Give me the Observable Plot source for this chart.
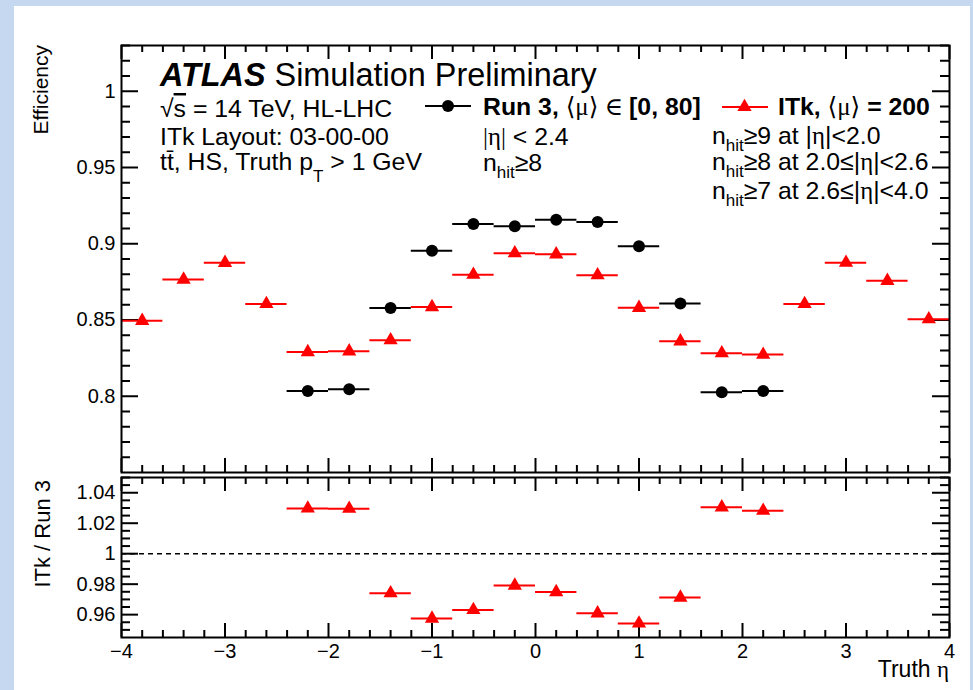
<!DOCTYPE html>
<html><head><meta charset="utf-8">
<script src="https://cdn.jsdelivr.net/npm/d3@7"></script>
<script src="https://cdn.jsdelivr.net/npm/@observablehq/plot@0.6"></script>
<style>
html,body{margin:0;padding:0;}
body{width:973px;height:690px;background:#c5d8ef;position:relative;overflow:hidden;font-family:"Liberation Sans",Arial,sans-serif;}
#panel{position:absolute;left:14px;top:6px;width:956px;height:684px;background:#fff;}
#chart svg{position:absolute;left:0;top:0;}
</style></head><body><div id="panel"></div><div id="chart"></div>
<script>
// ---------------- data ----------------
const binHalfWidth = 0.2;
const itkEta = [-3.8,-3.4,-3.0,-2.6,-2.2,-1.8,-1.4,-1.0,-0.6,-0.2,0.2,0.6,1.0,1.4,1.8,2.2,2.6,3.0,3.4,3.8];
const itkEff = [0.8495,0.8765,0.8875,0.8605,0.829,0.8295,0.8368,0.8585,0.8797,0.8938,0.8931,0.8794,0.858,0.836,0.8282,0.8273,0.8605,0.8876,0.8757,0.8505];
const run3Eta = [-2.2,-1.8,-1.4,-1.0,-0.6,-0.2,0.2,0.6,1.0,1.4,1.8,2.2];
const run3Eff = [0.8035,0.8046,0.8578,0.8954,0.9130,0.9114,0.9157,0.9142,0.8983,0.8608,0.8026,0.8035];
const ratioEta = [-2.2,-1.8,-1.4,-1.0,-0.6,-0.2,0.2,0.6,1.0,1.4,1.8,2.2];
const ratioVal = [1.0297,1.0295,0.9741,0.9574,0.9631,0.9791,0.9748,0.9609,0.9542,0.9712,1.0304,1.0282];

const xTickValues = [-4,-3,-2,-1,0,1,2,3,4];
const xTickLabels = ["\u22124","\u22123","\u22122","\u22121","0","1","2","3","4"];
const effTickValues = [0.8,0.85,0.9,0.95,1];
const effTickLabels = ["0.8","0.85","0.9","0.95","1"];
const ratioTickValues = [0.96,0.98,1,1.02,1.04];
const ratioTickLabels = ["0.96","0.98","1","1.02","1.04"];

// ---------------- tables ----------------
const itk = itkEta.map((e,i)=>({eta:e, lo:e-binHalfWidth, hi:e+binHalfWidth, v:itkEff[i]}));
const run3 = run3Eta.map((e,i)=>({eta:e, lo:e-binHalfWidth, hi:e+binHalfWidth, v:run3Eff[i]}));
const ratio = ratioEta.map((e,i)=>({eta:e, lo:e-binHalfWidth, hi:e+binHalfWidth, v:ratioVal[i]}));

const xMinor = d3.range(-38,40,2).map(d=>d/10).filter(d=>!xTickValues.some(t=>Math.abs(t-d)<1e-9));
const effMinor = d3.range(76,104,1).map(d=>d/100).filter(d=>!effTickValues.some(t=>Math.abs(t-d)<1e-9));
const ratioMinor = d3.range(190,211,1).map(d=>d/200).filter(d=>!ratioTickValues.some(t=>Math.abs(t-d)<1e-9));

const lookup = (vals, labels) => d => labels[vals.findIndex(v=>Math.abs(v-d)<1e-9)];
const FONT = "Liberation Sans, Arial, Helvetica, sans-serif";
const RED = "#ff0000";
const W = 973, ML = 121, MR = 24;
const FW = W - ML - MR;

function frameTicks(fh, xMaj, xMin, yMaj, yMin, yL, yS) {
  const xL = 14, xS = 7, sw = 2;
  return [
    Plot.ruleX(xMaj, {insetTop: fh - xL, stroke:"black", strokeWidth: sw}),
    Plot.ruleX(xMaj, {insetBottom: fh - xL, stroke:"black", strokeWidth: sw}),
    Plot.ruleX(xMin, {insetTop: fh - xS, stroke:"black", strokeWidth: sw}),
    Plot.ruleX(xMin, {insetBottom: fh - xS, stroke:"black", strokeWidth: sw}),
    Plot.ruleY(yMaj, {insetRight: FW - yL, stroke:"black", strokeWidth: sw}),
    Plot.ruleY(yMaj, {insetLeft: FW - yL, stroke:"black", strokeWidth: sw}),
    Plot.ruleY(yMin, {insetRight: FW - yS, stroke:"black", strokeWidth: sw}),
    Plot.ruleY(yMin, {insetLeft: FW - yS, stroke:"black", strokeWidth: sw})
  ];
}
const style = {background:"transparent", fontFamily: FONT, fontSize:"20px", color:"black", overflow:"visible"};

// ---------------- main panel ----------------
const MAIN_TOP = 45, MAIN_BOT = 472, MAIN_H = 474;
const mainSvg = Plot.plot({
  width: W, height: MAIN_H,
  marginTop: MAIN_TOP, marginBottom: MAIN_H - MAIN_BOT, marginLeft: ML, marginRight: MR,
  x: {domain:[-4,4], axis: null},
  y: {domain:[0.75,1.03], ticks: effTickValues, tickSize: 0, tickPadding: 6, tickFormat: lookup(effTickValues, effTickLabels), label: null},
  style,
  marks: [
    ...frameTicks(MAIN_BOT - MAIN_TOP, xTickValues, xMinor, effTickValues, effMinor, 17, 9),
    Plot.ruleY(itk, {y:"v", x1:"lo", x2:"hi", stroke: RED, strokeWidth: 2}),
    Plot.dot(itk, {x:"eta", y:"v", symbol:"triangle", r:5.3, fill: RED, stroke:"none"}),
    Plot.ruleY(run3, {y:"v", x1:"lo", x2:"hi", stroke:"black", strokeWidth: 2}),
    Plot.dot(run3, {x:"eta", y:"v", r:6, fill:"black", stroke:"none"}),
    Plot.frame({stroke:"black", strokeWidth: 2})
  ]
});

// ---------------- ratio panel ----------------
const R_TOP = 477, R_BOT = 637, R_H = 690;
const ratioSvg = Plot.plot({
  width: W, height: R_H,
  marginTop: R_TOP, marginBottom: R_H - R_BOT, marginLeft: ML, marginRight: MR,
  x: {domain:[-4,4], ticks: xTickValues, tickSize: 0, tickPadding: 6, tickFormat: lookup(xTickValues, xTickLabels), label: null},
  y: {domain:[0.945,1.05], ticks: ratioTickValues, tickSize: 0, tickPadding: 6, tickFormat: lookup(ratioTickValues, ratioTickLabels), label: null},
  style,
  marks: [
    ...frameTicks(R_BOT - R_TOP, xTickValues, xMinor, ratioTickValues, ratioMinor, 17, 9),
    Plot.ruleY([1], {stroke:"black", strokeWidth: 1.5, strokeDasharray:"5,4"}),
    Plot.ruleY(ratio, {y:"v", x1:"lo", x2:"hi", stroke: RED, strokeWidth: 2}),
    Plot.dot(ratio, {x:"eta", y:"v", symbol:"triangle", r:5.3, fill: RED, stroke:"none"}),
    Plot.frame({stroke:"black", strokeWidth: 2})
  ]
});

const chart = document.getElementById("chart");
chart.appendChild(mainSvg);
chart.appendChild(ratioSvg);

// ---------------- annotations ----------------
const SERIF = "Liberation Serif, DejaVu Serif, serif";
function addText(svgEl, x, y, parts, size, anchor) {
  const t = d3.select(svgEl).append("text")
    .attr("x", x).attr("y", y).attr("font-family", FONT).attr("font-size", size)
    .attr("fill", "black").attr("text-anchor", anchor || "start");
  let shift = 0;
  parts.forEach(p => {
    const s = t.append("tspan").text(p.t);
    const target = p.sub ? p.sub : 0;
    if (target !== shift) { s.attr("dy", target - shift); shift = target; }
    if (p.size) s.attr("font-size", p.size);
    if (p.bold) s.attr("font-weight", "bold");
    if (p.italic) s.attr("font-style", "italic");
    if (p.serif) s.attr("font-family", SERIF);
    if (p.over) s.attr("text-decoration", "overline");
  });
  return t;
}
const TS = 24.8;
// title block
addText(mainSvg, 160, 86, [{t:"ATLAS", bold:true, italic:true}, {t:" Simulation Preliminary"}], 32.4);
addText(mainSvg, 160, 117, [{t:"\u221A"}, {t:"s", over:true}, {t:" = 14 TeV, HL-LHC"}], TS);
addText(mainSvg, 160, 145, [{t:"ITk Layout: 03-00-00"}], TS);
addText(mainSvg, 160, 170, [{t:"tt\u0304, HS, Truth p"}, {t:"T", sub:12, size:17}, {t:" > 1 GeV"}], TS);

// legend: Run 3
const g = d3.select(mainSvg);
g.append("line").attr("x1",425).attr("x2",471).attr("y1",106).attr("y2",106).attr("stroke","black").attr("stroke-width",2);
g.append("circle").attr("cx",448).attr("cy",106).attr("r",6).attr("fill","black");
addText(mainSvg, 483, 115, [{t:"Run 3, ", bold:true}, {t:"\u27E8\u03BC\u27E9 \u2208 ", serif:true}, {t:"[0, 80]", bold:true}], TS);
addText(mainSvg, 483, 145, [{t:"|", serif:true}, {t:"\u03B7", serif:true}, {t:"|", serif:true}, {t:" < 2.4"}], TS);
addText(mainSvg, 483, 171, [{t:"n"}, {t:"hit", sub:7, size:17}, {t:"\u22658"}], TS);

// legend: ITk
g.append("line").attr("x1",722).attr("x2",768).attr("y1",107).attr("y2",107).attr("stroke",RED).attr("stroke-width",2);
g.append("path").attr("transform","translate(744.5,107)").attr("d", d3.symbol(d3.symbolTriangle, Math.PI*5.3*5.3)()).attr("fill",RED);
addText(mainSvg, 778, 115, [{t:"ITk, ", bold:true}, {t:"\u27E8\u03BC\u27E9", serif:true}, {t:" = 200", bold:true}], TS);
addText(mainSvg, 712, 144, [{t:"n"}, {t:"hit", sub:7, size:17}, {t:"\u22659 at |"}, {t:"\u03B7", serif:true}, {t:"|<2.0"}], TS);
addText(mainSvg, 712, 170, [{t:"n"}, {t:"hit", sub:7, size:17}, {t:"\u22658 at 2.0\u2264|"}, {t:"\u03B7", serif:true}, {t:"|<2.6"}], TS);
addText(mainSvg, 712, 199, [{t:"n"}, {t:"hit", sub:7, size:17}, {t:"\u22657 at 2.6\u2264|"}, {t:"\u03B7", serif:true}, {t:"|<4.0"}], TS);

// axis titles
addText(mainSvg, 0, 0, [{t:"Efficiency"}], 21, "end").attr("transform","translate(48,45) rotate(-90)").attr("x",null).attr("y",null);
addText(ratioSvg, 0, 0, [{t:"ITk / Run 3"}], 22, "end").attr("transform","translate(50,480) rotate(-90)").attr("x",null).attr("y",null);
addText(ratioSvg, 949, 677, [{t:"Truth "}, {t:"\u03B7", serif:true}], 23, "end");
</script></body></html>
